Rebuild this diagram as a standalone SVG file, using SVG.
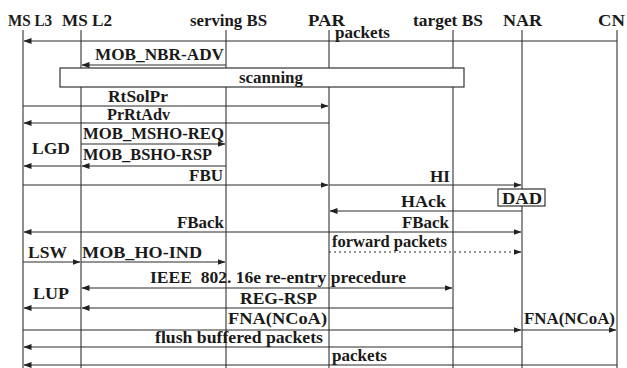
<svg xmlns="http://www.w3.org/2000/svg" width="627" height="368" viewBox="0 0 627 368">
<defs>
<marker id="ah" markerWidth="8" markerHeight="6" refX="7.5" refY="3" orient="auto" markerUnits="userSpaceOnUse">
<path d="M0,0 L8,3 L0,6 Z" fill="#222"/>
</marker>
<style>
.ll{stroke:#6a6a6a;stroke-width:1.5;fill:none}
.m{stroke:#2a2a2a;stroke-width:1.2;fill:none;marker-end:url(#ah)}
.d{stroke:#2a2a2a;stroke-width:1.2;fill:none;stroke-dasharray:2 3;marker-end:url(#ah)}
.box{fill:#fff;stroke:#333;stroke-width:1.2}
</style>
</defs>
<rect width="627" height="368" fill="#fff"/>
<g id="ms-l3"><line class="ll" x1="23" y1="30" x2="23" y2="368"/></g>
<g id="ms-l2"><line class="ll" x1="81" y1="30" x2="81" y2="368"/></g>
<g id="serving-bs"><line class="ll" x1="226" y1="30" x2="226" y2="368"/></g>
<g id="par"><line class="ll" x1="329" y1="30" x2="329" y2="368"/></g>
<g id="target-bs"><line class="ll" x1="453" y1="30" x2="453" y2="368"/></g>
<g id="nar"><line class="ll" x1="522" y1="30" x2="522" y2="368"/></g>
<g id="cn"><line class="ll" x1="617" y1="30" x2="617" y2="368"/></g>
<g id="scanning"><rect class="box" x="60" y="68" width="404" height="19"/></g>
<g id="dad"><rect class="box" x="498" y="189" width="47" height="17"/></g>
<g id="connectors">
<line class="m" x1="617" y1="41" x2="24" y2="41"/>
<line class="m" x1="226" y1="65" x2="82" y2="65"/>
<line class="m" x1="23" y1="106" x2="328" y2="106"/>
<line class="m" x1="329" y1="123" x2="24" y2="123"/>
<line class="m" x1="81" y1="144" x2="225" y2="144"/>
<line class="m" x1="226" y1="166" x2="82" y2="166"/>
<line class="m" x1="81" y1="166" x2="24" y2="166"/>
<line class="m" x1="23" y1="185" x2="328" y2="185"/>
<line class="m" x1="329" y1="185" x2="521" y2="185"/>
<line class="m" x1="522" y1="211" x2="330" y2="211"/>
<line class="m" x1="329" y1="232" x2="24" y2="232"/>
<line class="m" x1="329" y1="232" x2="521" y2="232"/>
<line class="d" x1="329" y1="252" x2="521" y2="252"/>
<line class="m" x1="23" y1="262" x2="80" y2="262"/>
<line class="m" x1="81" y1="262" x2="225" y2="262"/>
<line class="m" x1="267" y1="288" x2="452" y2="288"/>
<line class="m" x1="267" y1="288" x2="82" y2="288"/>
<line class="m" x1="453" y1="308" x2="82" y2="308"/>
<line class="m" x1="81" y1="308" x2="24" y2="308"/>
<line class="m" x1="23" y1="330" x2="521" y2="330"/>
<line class="m" x1="522" y1="330" x2="616" y2="330"/>
<line class="m" x1="522" y1="347" x2="24" y2="347"/>
<line class="m" x1="617" y1="365" x2="24" y2="365"/>
</g>
<g id="labels" fill="#1a1a1a" font-family="'Liberation Serif', 'Times New Roman', serif" font-size="17" font-weight="bold">
<text x="8" y="26" textLength="44" lengthAdjust="spacingAndGlyphs">MS L3</text>
<text x="62" y="26" textLength="50" lengthAdjust="spacingAndGlyphs">MS L2</text>
<text x="190" y="26" textLength="77" lengthAdjust="spacingAndGlyphs">serving BS</text>
<text x="308" y="26" textLength="37" lengthAdjust="spacingAndGlyphs">PAR</text>
<text x="413" y="26" textLength="70" lengthAdjust="spacingAndGlyphs">target BS</text>
<text x="503" y="26" textLength="39" lengthAdjust="spacingAndGlyphs">NAR</text>
<text x="598" y="26" textLength="27" lengthAdjust="spacingAndGlyphs">CN</text>
<text x="239" y="83" textLength="64" lengthAdjust="spacingAndGlyphs">scanning</text>
<text x="502" y="204" textLength="40" lengthAdjust="spacingAndGlyphs">DAD</text>
<text x="335" y="38" textLength="55" lengthAdjust="spacingAndGlyphs">packets</text>
<text x="95" y="60" textLength="129" lengthAdjust="spacingAndGlyphs">MOB_NBR-ADV</text>
<text x="108" y="102" textLength="60" lengthAdjust="spacingAndGlyphs">RtSolPr</text>
<text x="107" y="120" textLength="63" lengthAdjust="spacingAndGlyphs">PrRtAdv</text>
<text x="83" y="139" textLength="141" lengthAdjust="spacingAndGlyphs">MOB_MSHO-REQ</text>
<text x="83" y="160" textLength="129" lengthAdjust="spacingAndGlyphs">MOB_BSHO-RSP</text>
<text x="32" y="154" textLength="38" lengthAdjust="spacingAndGlyphs">LGD</text>
<text x="189" y="181" textLength="34" lengthAdjust="spacingAndGlyphs">FBU</text>
<text x="430" y="182" textLength="20" lengthAdjust="spacingAndGlyphs">HI</text>
<text x="401" y="207" textLength="45" lengthAdjust="spacingAndGlyphs">HAck</text>
<text x="177" y="228" textLength="47" lengthAdjust="spacingAndGlyphs">FBack</text>
<text x="402" y="228" textLength="47" lengthAdjust="spacingAndGlyphs">FBack</text>
<text x="332" y="247" textLength="115" lengthAdjust="spacingAndGlyphs">forward packets</text>
<text x="28" y="258" textLength="39" lengthAdjust="spacingAndGlyphs">LSW</text>
<text x="82" y="258" textLength="120" lengthAdjust="spacingAndGlyphs">MOB_HO-IND</text>
<text x="150" y="283" textLength="256" lengthAdjust="spacingAndGlyphs" xml:space="preserve">IEEE  802. 16e re-entry precedure</text>
<text x="240" y="304" textLength="77" lengthAdjust="spacingAndGlyphs">REG-RSP</text>
<text x="33" y="299" textLength="36" lengthAdjust="spacingAndGlyphs">LUP</text>
<text x="228" y="324" textLength="99" lengthAdjust="spacingAndGlyphs">FNA(NCoA)</text>
<text x="524" y="324" textLength="91" lengthAdjust="spacingAndGlyphs">FNA(NCoA)</text>
<text x="155" y="343" textLength="168" lengthAdjust="spacingAndGlyphs">flush buffered packets</text>
<text x="332" y="361" textLength="55" lengthAdjust="spacingAndGlyphs">packets</text>
</g>
</svg>
